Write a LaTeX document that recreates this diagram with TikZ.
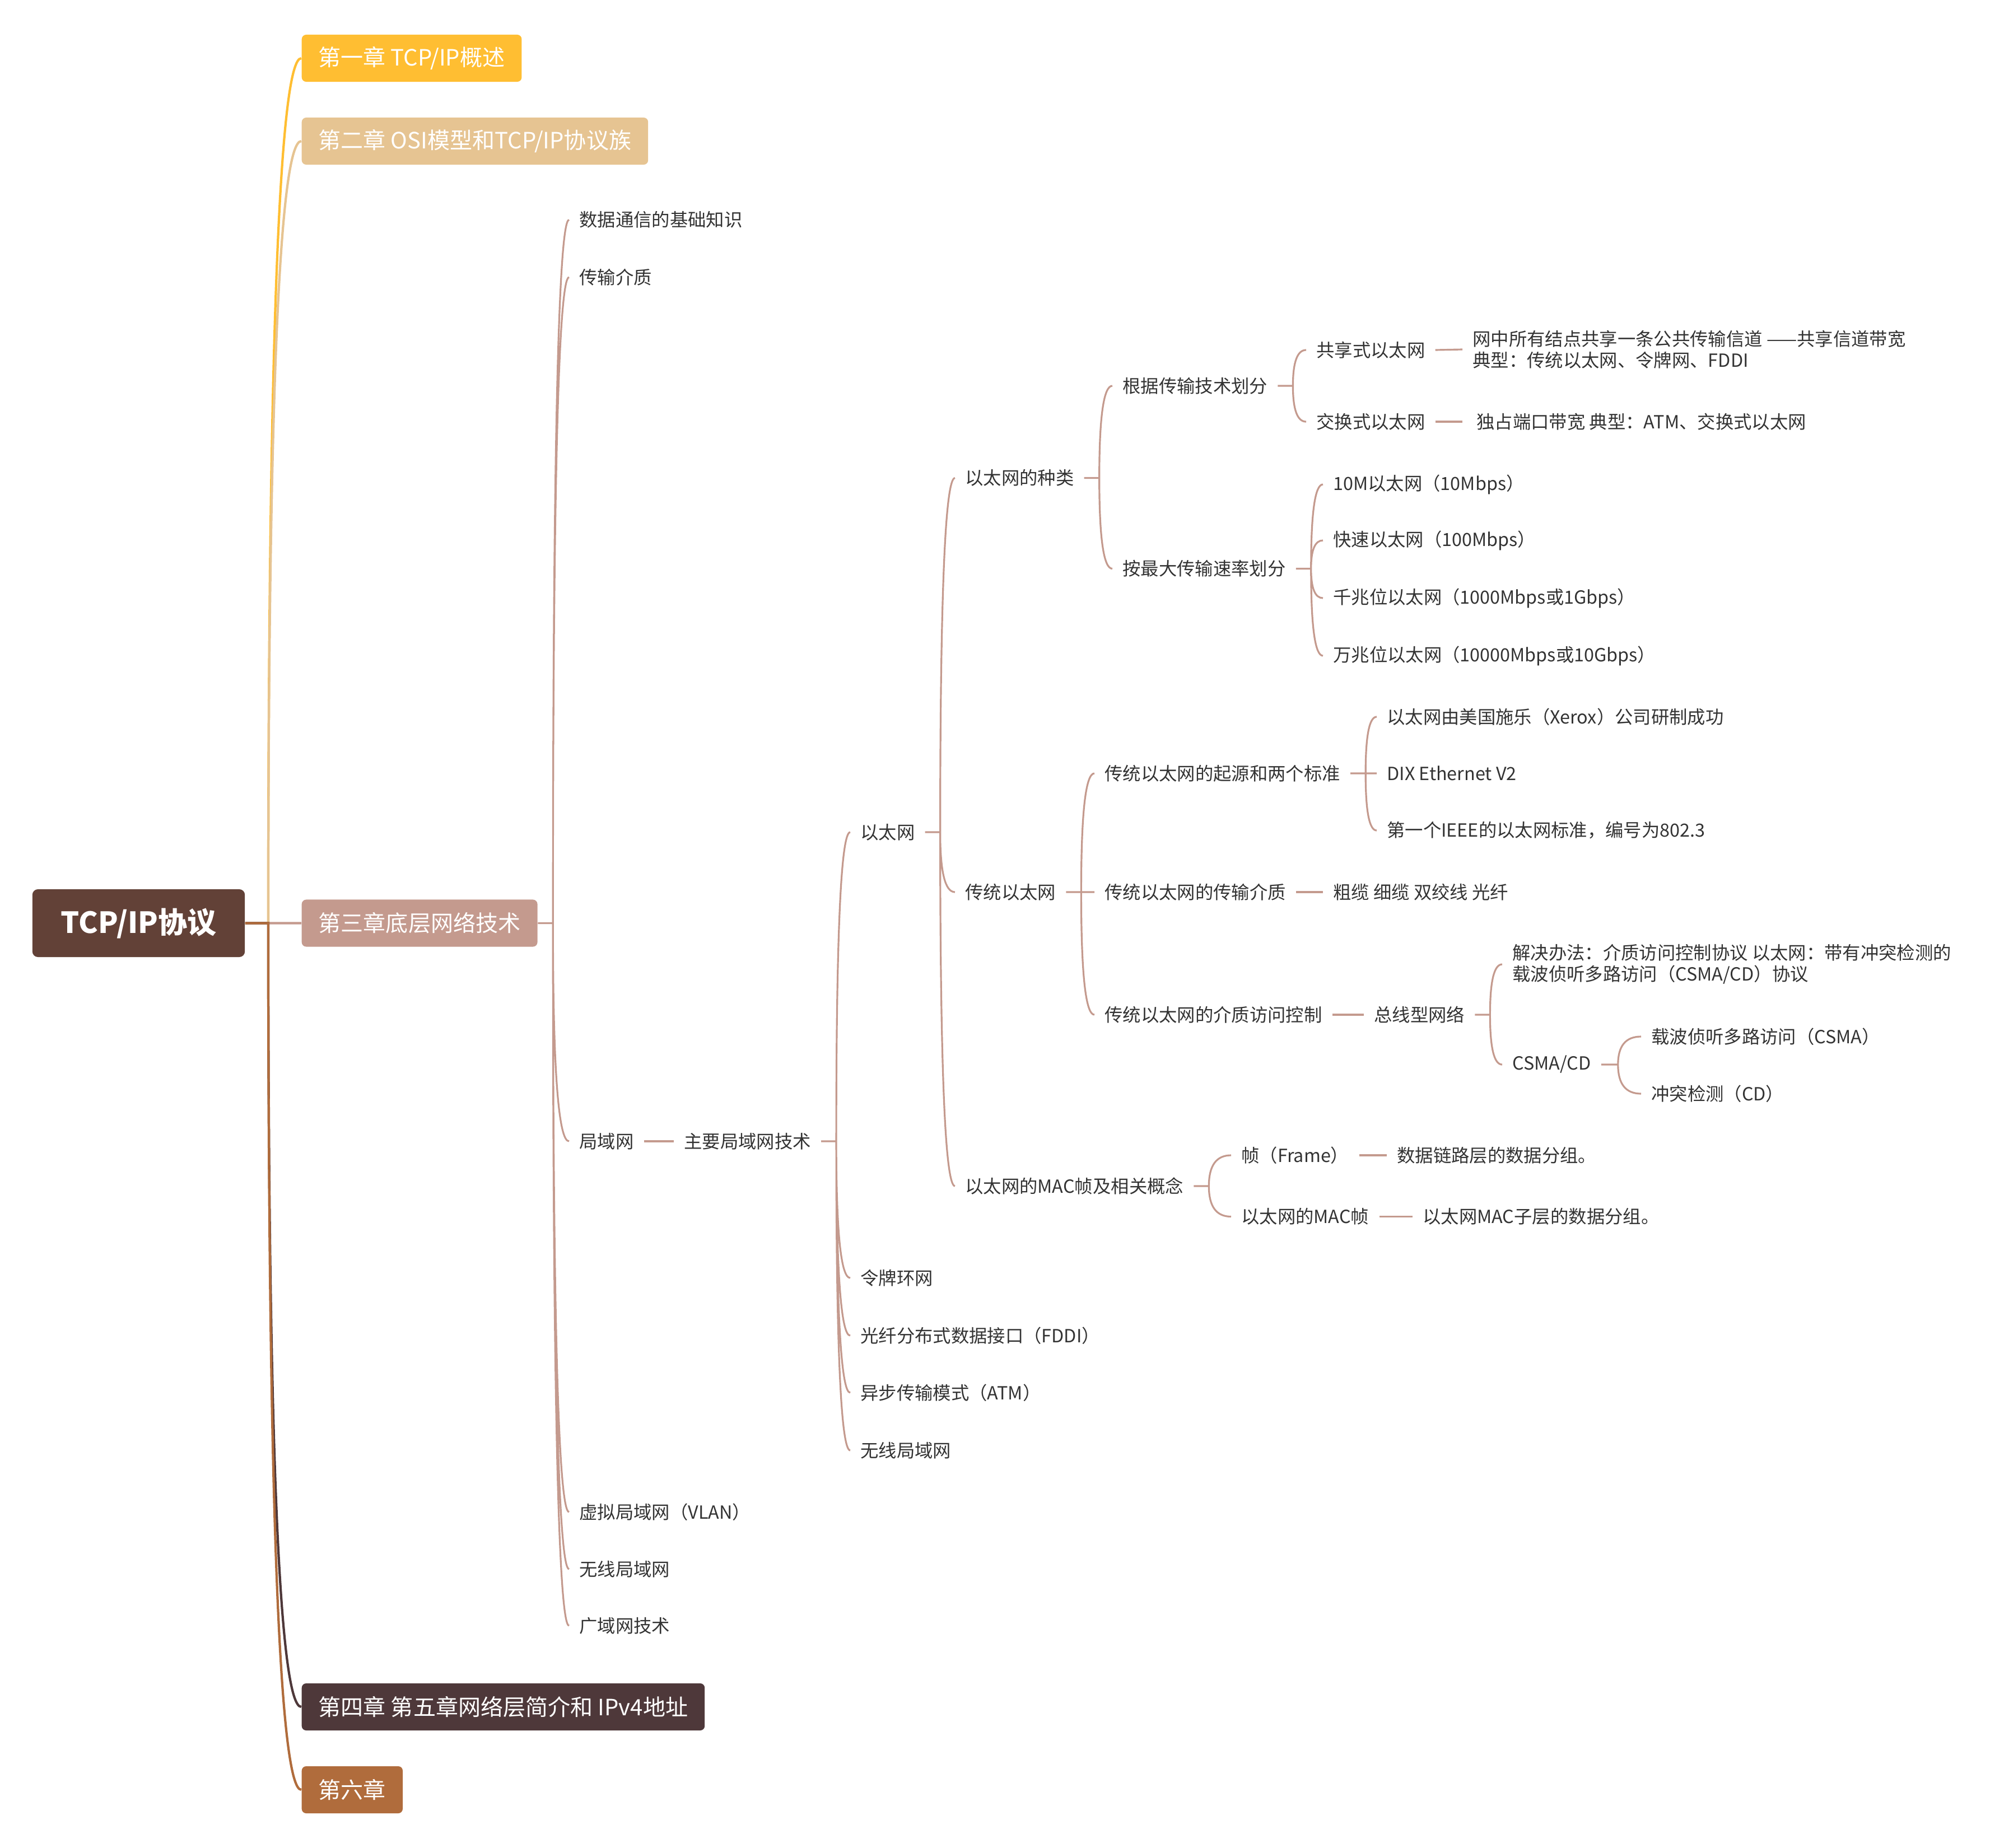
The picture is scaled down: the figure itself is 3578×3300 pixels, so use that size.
\documentclass[tikz,border=0pt]{standalone}
\usepackage{fontspec}
\setmainfont{Noto Sans CJK SC}
\usetikzlibrary{calc}
\definecolor{rootbrown}{HTML}{624137}
\definecolor{chapyellow}{HTML}{FFBE32}
\definecolor{chapsand}{HTML}{E6C492}
\definecolor{chaprose}{HTML}{C49A8E}
\definecolor{chapdark}{HTML}{4E383A}
\definecolor{chaprust}{HTML}{B06C3C}
\definecolor{topictext}{HTML}{333333}

\begin{document}
\begin{tikzpicture}[x=0.01cm,y=-0.01cm,
  rootbox/.style={rounded corners=0.1cm,fill=rootbrown,text=white,
                  font=\bfseries\fontsize{14.8pt}{17pt}\selectfont,
                  inner xsep=0.51cm,minimum height=1.21cm},
  chapbox/.style={anchor=west,rounded corners=0.08cm,text=white,
                  font=\fontsize{11.4pt}{13pt}\selectfont,
                  inner xsep=0.3cm,minimum height=0.84cm},
  topic/.style={anchor=west,text=topictext,align=left,
                font=\fontsize{9.2pt}{10.8pt}\selectfont,
                inner xsep=5pt,inner ysep=2pt},
  mainline/.style={line width=1.2pt},
  branch/.style={draw=chaprose,line width=0.9pt},
  curved/.style={to path={.. controls
      ($(\tikztostart)!0.667!(\tikztostart|-\tikztotarget)$) and
      ($(\tikztotarget)!0.667!(\tikztostart|-\tikztotarget)$) ..
      (\tikztotarget)}}]
\path[use as bounding box] (0,0) rectangle (3578,3300);

% root and chapters
\node[rootbox] (root) at (247.5,1648.5) {TCP/IP协议};
\node[chapbox,fill=chapyellow] (ch1) at (538,104) {第一章 TCP/IP概述};
\node[chapbox,fill=chapsand] (ch2) at (538,252) {第二章 OSI模型和TCP/IP协议族};
\node[chapbox,fill=chaprose] (ch3) at (538,1648.5) {第三章底层网络技术};
\node[chapbox,fill=chapdark] (ch4) at (538,3048) {第四章 第五章网络层简介和 IPv4地址};
\node[chapbox,fill=chaprust] (ch6) at (538,3196) {第六章};

\coordinate (r0) at ([xshift=0.41cm]root.east);
\draw[mainline,draw=chapyellow,curved] (root.east) -- (r0) to (ch1.west);
\draw[mainline,draw=chapsand,curved] (root.east) -- (r0) to (ch2.west);
\draw[mainline,draw=chaprose,curved] (root.east) -- (r0) to (ch3.west);
\draw[mainline,draw=chapdark,curved] (root.east) -- (r0) to (ch4.west);
\draw[mainline,draw=chaprust,curved] (root.east) -- (r0) to (ch6.west);

% chapter 3
\node[topic] (datacomm) at (1016,392.5) {数据通信的基础知识};
\node[topic] (medium) at (1016,495) {传输介质};
\node[topic] (lan) at (1016,2038) {局域网};
\node[topic] (vlan) at (1016,2700) {虚拟局域网（VLAN）};
\node[topic] (wlan) at (1016,2802) {无线局域网};
\node[topic] (wan) at (1016,2903) {广域网技术};
\coordinate (t3) at ([xshift=0.27cm]ch3.east);
\draw[branch,curved] (ch3.east) -- (t3) to (datacomm.west)
  (t3) to (medium.west) (t3) to (lan.west)
  (t3) to (vlan.west) (t3) to (wlan.west) (t3) to (wan.west);

\node[topic] (mainlan) at (1203,2038) {主要局域网技术};
\draw[branch] (lan.east) -- (mainlan.west);

\node[topic] (ether) at (1518,1486) {以太网};
\node[topic] (tokenring) at (1518,2282) {令牌环网};
\node[topic] (fddi) at (1518,2385) {光纤分布式数据接口（FDDI）};
\node[topic] (atm) at (1518,2487) {异步传输模式（ATM）};
\node[topic] (wlanb) at (1518,2590) {无线局域网};
\coordinate (tlan) at ([xshift=0.27cm]mainlan.east);
\draw[branch,curved] (mainlan.east) -- (tlan) to (ether.west)
  (tlan) to (tokenring.west) (tlan) to (fddi.west)
  (tlan) to (atm.west) (tlan) to (wlanb.west);

% ethernet
\node[topic] (ethkind) at (1705,853.5) {以太网的种类};
\node[topic] (classic) at (1705,1593) {传统以太网};
\node[topic] (macframe) at (1705,2118) {以太网的MAC帧及相关概念};
\coordinate (teth) at ([xshift=0.27cm]ether.east);
\draw[branch,curved] (ether.east) -- (teth) to (ethkind.west)
  (teth) to (classic.west) (teth) to (macframe.west);

\node[topic] (bytech) at (1986,689) {根据传输技术划分};
\node[topic] (byrate) at (1986,1015.5) {按最大传输速率划分};
\coordinate (tkind) at ([xshift=0.27cm]ethkind.east);
\draw[branch,curved] (ethkind.east) -- (tkind) to (bytech.west)
  (tkind) to (byrate.west);

\node[topic] (shared) at (2332,625) {共享式以太网};
\node[topic] (switched) at (2332,753) {交换式以太网};
\coordinate (ttech) at ([xshift=0.27cm]bytech.east);
\draw[branch,curved] (bytech.east) -- (ttech) to (shared.west)
  (ttech) to (switched.west);
\node[topic] (shareddesc) at (2611,624)
  {网中所有结点共享一条公共传输信道 ——共享信道带宽\\典型：传统以太网、令牌网、FDDI};
\node[topic] (switchdesc) at (2611,753) {\ 独占端口带宽 典型：ATM、交换式以太网};
\draw[branch] (shared.east) -- (shareddesc.west);
\draw[branch] (switched.east) -- (switchdesc.west);

\node[topic] (e10m) at (2362,865) {10M以太网（10Mbps）};
\node[topic] (e100m) at (2362,965) {快速以太网（100Mbps）};
\node[topic] (e1g) at (2362,1068) {千兆位以太网（1000Mbps或1Gbps）};
\node[topic] (e10g) at (2362,1171) {万兆位以太网（10000Mbps或10Gbps）};
\coordinate (trate) at ([xshift=0.27cm]byrate.east);
\draw[branch,curved] (byrate.east) -- (trate) to (e10m.west)
  (trate) to (e100m.west) (trate) to (e1g.west) (trate) to (e10g.west);

% classic ethernet
\node[topic] (origin) at (1954,1381) {传统以太网的起源和两个标准};
\node[topic] (cmedium) at (1954,1593) {传统以太网的传输介质};
\node[topic] (access) at (1954,1812) {传统以太网的介质访问控制};
\coordinate (tclassic) at ([xshift=0.27cm]classic.east);
\draw[branch,curved] (classic.east) -- (tclassic) to (origin.west)
  (tclassic) to (cmedium.west) (tclassic) to (access.west);

\node[topic] (xerox) at (2458,1280) {以太网由美国施乐（Xerox）公司研制成功};
\node[topic] (dix) at (2458,1381) {DIX Ethernet V2};
\node[topic] (ieee) at (2458,1483) {第一个IEEE的以太网标准，编号为802.3};
\coordinate (torigin) at ([xshift=0.27cm]origin.east);
\draw[branch,curved] (origin.east) -- (torigin) to (xerox.west)
  (torigin) to (dix.west) (torigin) to (ieee.west);

\node[topic] (cables) at (2362,1593) {粗缆 细缆 双绞线 光纤};
\draw[branch] (cmedium.east) -- (cables.west);

\node[topic] (bus) at (2435,1812) {总线型网络};
\draw[branch] (access.east) -- (bus.west);
\node[topic] (solution) at (2682,1722)
  {解决办法：介质访问控制协议 以太网：带有冲突检测的\\载波侦听多路访问（CSMA/CD）协议};
\node[topic] (csmacd) at (2682,1901) {CSMA/CD};
\coordinate (tbus) at ([xshift=0.27cm]bus.east);
\draw[branch,curved] (bus.east) -- (tbus) to (solution.west)
  (tbus) to (csmacd.west);

\node[topic] (csma) at (2930,1851) {载波侦听多路访问（CSMA）};
\node[topic] (cd) at (2930,1953) {冲突检测（CD）};
\coordinate (tcsma) at ([xshift=0.3cm]csmacd.east);
\draw[branch,curved] (csmacd.east) -- (tcsma) to (csma.west)
  (tcsma) to (cd.west);

% MAC frame
\node[topic] (frame) at (2198,2063) {帧（Frame）};
\node[topic] (macf) at (2198,2172.5) {以太网的MAC帧};
\coordinate (tmac) at ([xshift=0.27cm]macframe.east);
\draw[branch,curved] (macframe.east) -- (tmac) to (frame.west)
  (tmac) to (macf.west);
\node[topic] (framedesc) at (2476,2063) {数据链路层的数据分组。};
\node[topic] (macfdesc) at (2522,2172.5) {以太网MAC子层的数据分组。};
\draw[branch] (frame.east) -- (framedesc.west);
\draw[branch] (macf.east) -- (macfdesc.west);
\end{tikzpicture}
\end{document}
